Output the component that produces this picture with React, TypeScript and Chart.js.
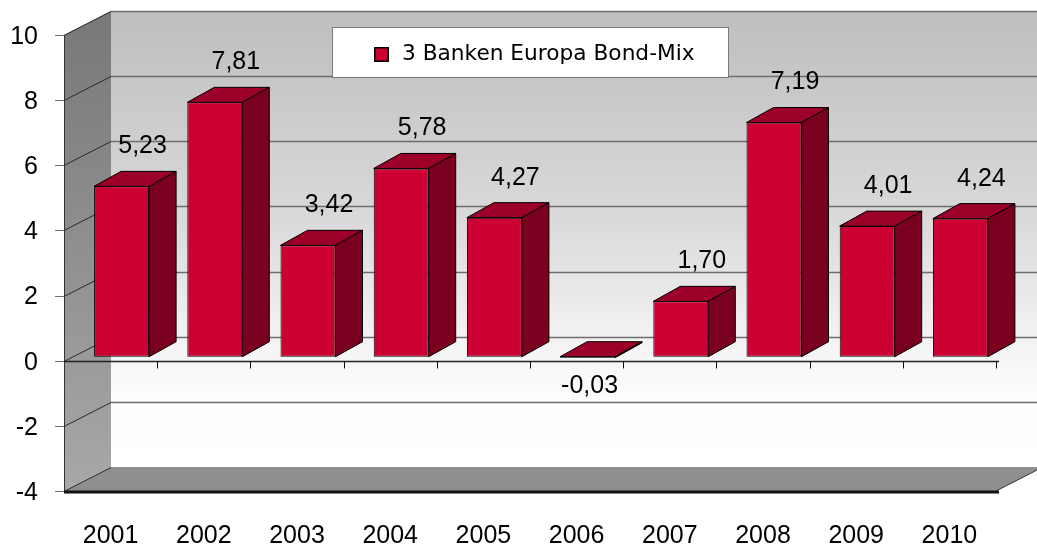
import React, { useEffect, useRef } from 'react';
import { Chart, registerables } from 'chart.js';

Chart.register(...registerables);

// ---- data ----
const categories = ['2001', '2002', '2003', '2004', '2005', '2006', '2007', '2008', '2009', '2010'];
const seriesName = '3 Banken Europa Bond-Mix';
const values = [5.23, 7.81, 3.42, 5.78, 4.27, -0.03, 1.7, 7.19, 4.01, 4.24];
const yMin = -4;
const yMax = 10;
const yStep = 2;

// ---- styling ----
const AXIS_FONT = "'Liberation Sans', Arial, sans-serif";
const LEGEND_FONT = "'DejaVu Sans', Verdana, sans-serif";
const FRONT = '#cc0033';
const TOP = '#9c0029';
const SIDE = '#7a001f';
const WDX = 47, WDY = -24; // wall depth
const BFX = 11, BFY = -4; // bar front offset inside the box
const BDX = 27, BDY = -15; // bar depth

const fmt = (v: number) => v.toFixed(2).replace('.', ',');

const wallsPlugin = {
  id: 'walls3d',
  beforeDraw(chart: any) {
    const { ctx, chartArea: a, scales } = chart;
    const ys = scales.y;
    const xs = scales.x;
    const top = ys.getPixelForValue(yMax);
    const bot = ys.getPixelForValue(yMin);
    const L = a.left, R = a.right;
    ctx.save();
    // back wall
    const g = ctx.createLinearGradient(0, top + WDY, 0, bot + WDY);
    g.addColorStop(0, '#bebebe');
    g.addColorStop(0.45, '#d9d9d9');
    g.addColorStop(0.72, '#f3f3f3');
    g.addColorStop(0.85, '#fdfdfd');
    g.addColorStop(1, '#ffffff');
    ctx.fillStyle = g;
    ctx.fillRect(L + WDX, top + WDY, R - L + 10, bot - top);
    // left wall
    const lg = ctx.createLinearGradient(0, top, 0, bot);
    lg.addColorStop(0, '#7a7a7a');
    lg.addColorStop(1, '#a8a8a8');
    ctx.fillStyle = lg;
    ctx.beginPath();
    ctx.moveTo(L, top);
    ctx.lineTo(L + WDX, top + WDY);
    ctx.lineTo(L + WDX, bot + WDY);
    ctx.lineTo(L, bot);
    ctx.closePath();
    ctx.fill();
    // floor
    ctx.fillStyle = '#8f8f8f';
    ctx.beginPath();
    ctx.moveTo(L, bot);
    ctx.lineTo(L + WDX, bot + WDY);
    ctx.lineTo(R + WDX, bot + WDY);
    ctx.lineTo(R, bot);
    ctx.closePath();
    ctx.fill();
    // gridlines
    for (let v = yMin; v <= yMax; v += yStep) {
      const yy = Math.round(ys.getPixelForValue(v)) + 0.5;
      if (v !== yMin) {
        ctx.strokeStyle = '#6e6e6e';
        ctx.lineWidth = 1.5;
        ctx.beginPath();
        ctx.moveTo(L + WDX, yy + WDY);
        ctx.lineTo(R + WDX + 10, yy + WDY);
        ctx.stroke();
      }
      ctx.strokeStyle = '#2a2a2a';
      ctx.lineWidth = 1;
      ctx.beginPath();
      ctx.moveTo(L, yy);
      ctx.lineTo(L + WDX, yy + WDY);
      ctx.stroke();
      ctx.strokeStyle = '#707070';
      ctx.beginPath();
      ctx.moveTo(L - 9, yy);
      ctx.lineTo(L, yy);
      ctx.stroke();
    }
    // left front edge
    ctx.strokeStyle = '#333';
    ctx.lineWidth = 1;
    ctx.beginPath();
    ctx.moveTo(L + 0.5, top);
    ctx.lineTo(L + 0.5, bot);
    ctx.stroke();
    // right floor edge
    ctx.beginPath();
    ctx.moveTo(R, bot);
    ctx.lineTo(R + WDX, bot + WDY);
    ctx.stroke();
    // floor front edge
    ctx.strokeStyle = '#111';
    ctx.lineWidth = 3;
    ctx.beginPath();
    ctx.moveTo(L, bot + 1);
    ctx.lineTo(R + 3, bot + 1);
    ctx.stroke();
    // zero line + category ticks
    const y0 = Math.round(ys.getPixelForValue(0)) + 0.5;
    ctx.strokeStyle = '#222';
    ctx.lineWidth = 1.5;
    ctx.beginPath();
    ctx.moveTo(L, y0);
    ctx.lineTo(R + 3, y0);
    ctx.stroke();
    const step = xs.getPixelForValue(1) - xs.getPixelForValue(0);
    const start = xs.getPixelForValue(0) - step / 2;
    ctx.lineWidth = 1;
    ctx.strokeStyle = '#111';
    for (let i = 1; i <= categories.length; i++) {
      const xx = Math.round(start + i * step) + 0.5;
      ctx.beginPath();
      ctx.moveTo(xx, y0);
      ctx.lineTo(xx, y0 + 7);
      ctx.stroke();
    }
    ctx.restore();
  },
  beforeDatasetsDraw(chart: any) {
    chart.ctx.save();
    chart.ctx.translate(BFX, BFY);
  },
  afterDatasetsDraw(chart: any) {
    const ctx = chart.ctx;
    const meta = chart.getDatasetMeta(0);
    ctx.lineWidth = 1;
    ctx.strokeStyle = '#000';
    ctx.lineJoin = 'round';
    meta.data.forEach((bar: any) => {
      const { x, y, base, width } = bar.getProps(['x', 'y', 'base', 'width'], true);
      const l = x - width / 2, r = x + width / 2;
      const t = Math.min(y, base), b = Math.max(y, base);
      ctx.fillStyle = TOP;
      ctx.beginPath();
      ctx.moveTo(l, t);
      ctx.lineTo(l + BDX, t + BDY);
      ctx.lineTo(r + BDX, t + BDY);
      ctx.lineTo(r, t);
      ctx.closePath();
      ctx.fill();
      ctx.stroke();
      ctx.fillStyle = SIDE;
      ctx.beginPath();
      ctx.moveTo(r, t);
      ctx.lineTo(r + BDX, t + BDY);
      ctx.lineTo(r + BDX, b + BDY);
      ctx.lineTo(r, b);
      ctx.closePath();
      ctx.fill();
      ctx.stroke();
    });
    ctx.restore();
    // value labels
    const ys = chart.scales.y;
    const xs = chart.scales.x;
    ctx.save();
    ctx.fillStyle = '#000';
    ctx.font = `25px ${AXIS_FONT}`;
    ctx.textAlign = 'center';
    ctx.textBaseline = 'middle';
    values.forEach((v, i) => {
      const cx = xs.getPixelForValue(i);
      if (v >= 0) {
        ctx.fillText(fmt(v), cx + 32, ys.getPixelForValue(v) - 44);
      } else {
        ctx.fillText(fmt(v), cx + 13, ys.getPixelForValue(0) + 25);
      }
    });
    ctx.restore();
  },
  afterDraw(chart: any) {
    const ctx = chart.ctx;
    ctx.save();
    const bx = 332.5, by = 27.5, bw = 396, bh = 50;
    ctx.fillStyle = '#fff';
    ctx.fillRect(bx, by, bw, bh);
    ctx.strokeStyle = '#7a7a7a';
    ctx.lineWidth = 1;
    ctx.strokeRect(bx, by, bw, bh);
    ctx.fillStyle = FRONT;
    ctx.fillRect(375, 48, 13, 13);
    ctx.strokeStyle = '#000';
    ctx.lineWidth = 1.5;
    ctx.strokeRect(374.75, 47.75, 13.5, 13.5);
    ctx.fillStyle = '#000';
    ctx.font = `21.7px ${LEGEND_FONT}`;
    ctx.textAlign = 'left';
    ctx.textBaseline = 'middle';
    ctx.fillText(seriesName, 402, 54);
    ctx.restore();
  },
};

export default function App() {
  const ref = useRef<HTMLCanvasElement>(null);
  useEffect(() => {
    if (!ref.current) return;
    const chart = new Chart(ref.current, {
      type: 'bar',
      data: {
        labels: categories,
        datasets: [
          {
            label: seriesName,
            data: values,
            backgroundColor: FRONT,
            borderColor: '#000',
            borderWidth: 1,
            borderSkipped: false,
            barPercentage: 0.59,
            categoryPercentage: 1,
          },
        ],
      },
      options: {
        animation: false,
        responsive: false,
        devicePixelRatio: 1,
        layout: { padding: { top: 35, right: 41, left: 0, bottom: 0 } },
        plugins: { legend: { display: false }, tooltip: { enabled: false } },
        scales: {
          x: {
            grid: { display: false, drawTicks: false },
            border: { display: false },
            ticks: { font: { family: AXIS_FONT, size: 25 }, color: '#000', padding: 30, maxRotation: 0 },
            afterFit: (s: any) => { s.height = 53; s.paddingLeft = 0; s.paddingRight = 0; },
          },
          y: {
            min: yMin,
            max: yMax,
            grid: { display: false, drawTicks: false },
            border: { display: false },
            ticks: { stepSize: yStep, font: { family: AXIS_FONT, size: 25 }, color: '#000', padding: 26, labelOffset: 2 },
            afterFit: (s: any) => { s.width = 64; s.paddingTop = 0; s.paddingBottom = 0; },
          },
        },
      },
      plugins: [wallsPlugin],
    });
    return () => chart.destroy();
  }, []);
  return (
    <div style={{ position: 'fixed', left: 0, top: 0, width: 1037, height: 544, background: '#fff' }}>
      <canvas ref={ref} width={1037} height={544} />
    </div>
  );
}
